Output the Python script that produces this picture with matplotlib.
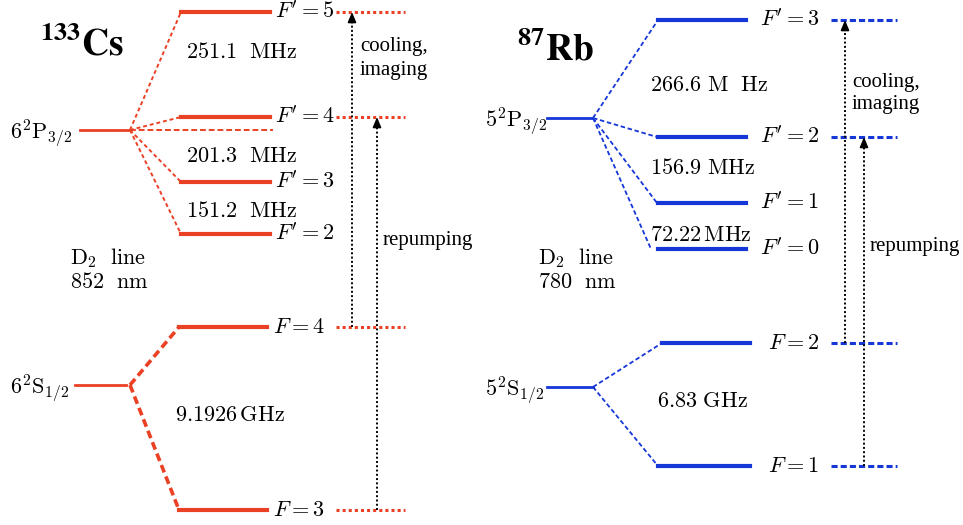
import matplotlib.pyplot as plt

plt.rcParams['mathtext.fontset'] = 'cm'
plt.rcParams['font.family'] = 'serif'

RED = '#ea4125'
BLUE = '#1537d8'

# ---- Cs data (pixel positions of the levels) ----
cs_exc_F = ['5', '4', '3', '2']
cs_exc_y = [12, 117, 182, 234]
cs_exc_split = ['251.1\\ \\ MHz', '201.3\\ \\ MHz', '151.2\\ \\ MHz']
cs_exc_split_y = [52, 156, 211]
cs_gnd_F = ['4', '3']
cs_gnd_y = [327, 510]
cs_gnd_split = '9.1926\\,GHz'
cs_P_y = 130
cs_S_y = 385

# ---- Rb data ----
rb_exc_F = ['3', '2', '1', '0']
rb_exc_y = [20, 137, 203, 249]
rb_exc_split = ['266.6\\ M\\ \\ Hz', '156.9\\ MHz', '72.22\\,MHz']
rb_exc_split_y = [85, 168, 235]
rb_gnd_F = ['2', '1']
rb_gnd_y = [343, 466]
rb_gnd_split = '6.83\\ GHz'
rb_P_y = 118
rb_S_y = 387

fig = plt.figure(figsize=(9.63, 5.25), dpi=100)
ax = fig.add_axes([0, 0, 1, 1])
ax.set_xlim(0, 963)
ax.set_ylim(525, 0)
ax.axis('off')

FS = 16
TIMES = 'Liberation Serif'


def txt(x, y, s, size=FS, ha='left', **kw):
    ax.text(x, y, s, fontsize=size, ha=ha, va='center', color='black', **kw)


def arrow(x, y0, y1):
    ax.plot([x, x], [y0, y1 + 6], color='black', lw=1.4, ls=(0, (1, 1.2)))
    ax.annotate('', xy=(x, y1), xytext=(x, y1 + 10),
                arrowprops=dict(arrowstyle='-|>,head_length=0.6,head_width=0.25',
                                color='black', lw=1.2, shrinkA=0, shrinkB=0))


# ================= Cs =================
txt(40, 45, r'$\mathbf{^{133}Cs}$', size=27, math_fontfamily='stix')
ax.plot([80, 130], [cs_P_y, cs_P_y], color=RED, lw=2)
txt(10, 133, r'$\mathrm{6^2P_{3/2}}$')
ax.plot([75, 126], [cs_S_y, cs_S_y], color=RED, lw=2)
txt(10, 388, r'$\mathrm{6^2S_{1/2}}$')

fx = 130
for F, y in zip(cs_exc_F, cs_exc_y):
    ax.plot([fx, 181], [cs_P_y, y], color=RED, lw=1.4, ls=(0, (2, 1.5)))
    ax.plot([181, 270], [y, y], color=RED, lw=3)
    txt(275, y, r"$F' = %s$" % F)
ax.plot([fx, 273], [cs_P_y, cs_P_y], color=RED, lw=1.4, ls=(0, (3, 1.5)))
for s, y in zip(cs_exc_split, cs_exc_split_y):
    txt(186, y, r'$\mathrm{%s}$' % s)

for F, y in zip(cs_gnd_F, cs_gnd_y):
    ax.plot([fx, 179], [cs_S_y, y], color=RED, lw=2.6, ls=(0, (2.2, 1.2)))
    ax.plot([179, 267], [y, y], color=RED, lw=3)
    txt(273, y, r'$F = %s$' % F)
txt(175, 415, r'$\mathrm{%s}$' % cs_gnd_split)

for y in cs_exc_y[:2] + cs_gnd_y:
    ax.plot([336, 405], [y, y], color=RED, lw=2.2, ls=(0, (1, 1)))

txt(70, 258, r'$\mathrm{D_2\ \ line}$')
txt(70, 282, r'$\mathrm{852\ \ nm}$')

arrow(352, cs_gnd_y[0], cs_exc_y[0])
arrow(377, cs_gnd_y[1], cs_exc_y[1])
txt(360, 47, 'cooling,', size=15, family=TIMES)
txt(360, 70, 'imaging', size=15, family=TIMES)
txt(383, 241, 'repumping', size=15, family=TIMES)

# ================= Rb =================
txt(517, 50, r'$\mathbf{^{87}Rb}$', size=27, math_fontfamily='stix')
ax.plot([547, 592], [rb_P_y, rb_P_y], color=BLUE, lw=2)
txt(485, 121, r'$\mathrm{5^2P_{3/2}}$')
ax.plot([547, 593], [rb_S_y, rb_S_y], color=BLUE, lw=2)
txt(485, 390, r'$\mathrm{5^2S_{1/2}}$')

rx = 593
rb_fan_end = [658, 657, 657, 651]
for F, y, xe in zip(rb_exc_F, rb_exc_y, rb_fan_end):
    ax.plot([rx, xe], [rb_P_y, y], color=BLUE, lw=1.3, ls=(0, (2.5, 1.5)))
    ax.plot([658, 746], [y, y], color=BLUE, lw=3)
    txt(760, y, r"$F' = %s$" % F)
for s, y in zip(rb_exc_split, rb_exc_split_y):
    txt(650, y, r'$\mathrm{%s}$' % s)

for F, y, xs in zip(rb_gnd_F, rb_gnd_y, [662, 658]):
    ax.plot([rx, xs], [rb_S_y, y], color=BLUE, lw=1.3, ls=(0, (2.5, 1.5)))
    ax.plot([xs, 750], [y, y], color=BLUE, lw=3)
    txt(768, y, r'$F = %s$' % F)
txt(657, 401, r'$\mathrm{%s}$' % rb_gnd_split)

for y in rb_exc_y[:2] + rb_gnd_y:
    ax.plot([831, 897], [y, y], color=BLUE, lw=2.2, ls=(0, (2, 1)))

txt(538, 258, r'$\mathrm{D_2\ \ line}$')
txt(538, 282, r'$\mathrm{780\ \ nm}$')

arrow(845, rb_gnd_y[0], rb_exc_y[0])
arrow(864, rb_gnd_y[1], rb_exc_y[1])
txt(852, 82, 'cooling,', size=15, family=TIMES)
txt(852, 105, 'imaging', size=15, family=TIMES)
txt(870, 247, 'repumping', size=15, family=TIMES)

fig.savefig('out.png', dpi=100)
